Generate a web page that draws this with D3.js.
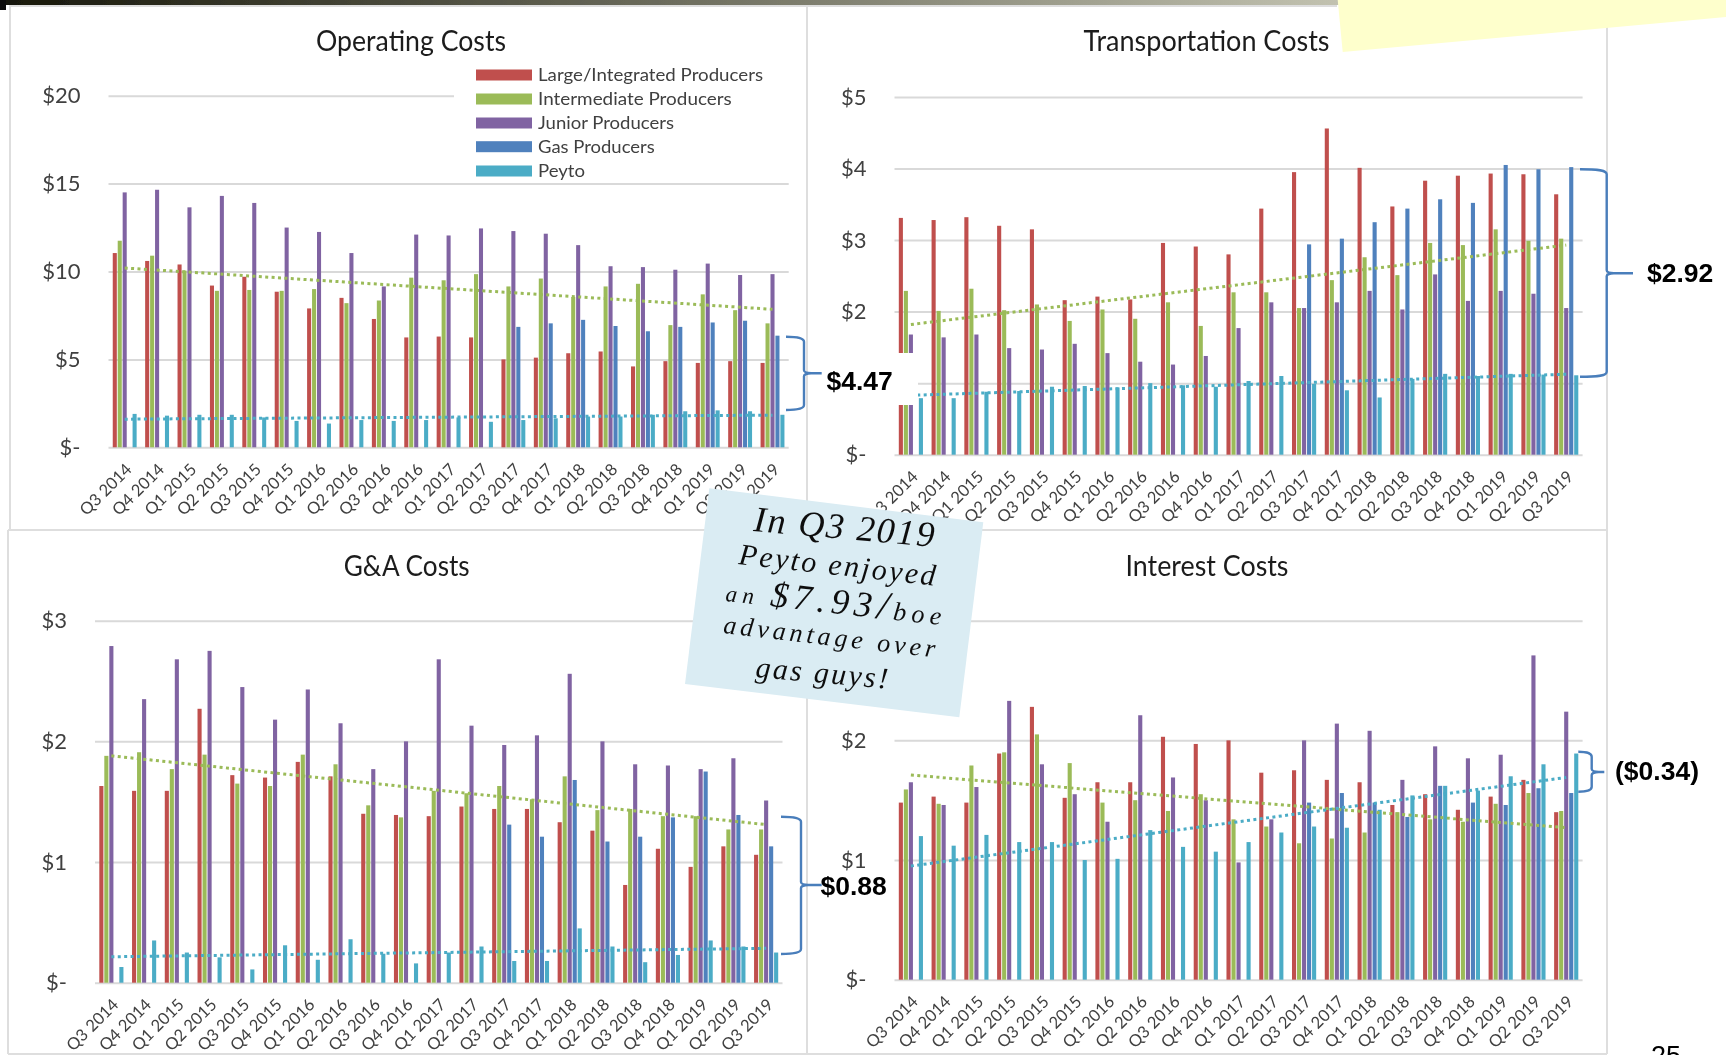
<!DOCTYPE html>
<html>
<head>
<meta charset="utf-8">
<title>Peyto cost comparison</title>
<script src="https://cdn.jsdelivr.net/npm/d3@7"></script>
<style>
html,body{margin:0;padding:0;background:#fff;overflow:hidden}
svg{display:block}
</style>
</head>
<body>
<svg id="chart" width="1726" height="1055"></svg>
<script>
const quarters = ["Q3 2014","Q4 2014","Q1 2015","Q2 2015","Q3 2015","Q4 2015","Q1 2016","Q2 2016","Q3 2016","Q4 2016","Q1 2017","Q2 2017","Q3 2017","Q4 2017","Q1 2018","Q2 2018","Q3 2018","Q4 2018","Q1 2019","Q2 2019","Q3 2019"];
const seriesNames = ["Large/Integrated Producers","Intermediate Producers","Junior Producers","Gas Producers","Peyto"];
const n = null;

const opLarge = [11.05,10.6,10.4,9.2,9.7,8.85,7.9,8.5,7.3,6.25,6.3,6.25,5.0,5.1,5.35,5.45,4.6,4.9,4.8,4.9,4.8];
const opInter = [11.75,10.9,10.05,8.9,8.95,8.9,9.0,8.2,8.35,9.65,9.5,9.85,9.15,9.6,8.55,9.15,9.3,6.95,8.7,7.8,7.05];
const opJunior = [14.5,14.65,13.65,14.3,13.9,12.5,12.25,11.05,9.15,12.1,12.05,12.45,12.3,12.15,11.5,10.3,10.25,10.1,10.45,9.8,9.85];
const opGas = [n,n,n,n,n,n,n,n,n,n,n,n,6.85,7.05,7.25,6.9,6.6,6.85,7.1,7.2,6.35];
const opPeyto = [1.9,1.8,1.85,1.85,1.7,1.5,1.35,1.55,1.5,1.55,1.7,1.45,1.55,1.65,1.75,1.75,1.85,2.05,2.1,2.05,1.85];
const opTicks = [0,5,10,15,20];
const opTrendInter = [10.2,7.85];
const opTrendPeyto = [1.6,1.83];

const trLarge = [3.31,3.28,3.32,3.2,3.15,2.16,2.21,2.17,2.96,2.91,2.8,3.44,3.95,4.56,4.01,3.47,3.83,3.9,3.93,3.92,3.64];
const trInter = [2.29,2.01,2.32,2.02,2.1,1.87,2.03,1.9,2.13,1.8,2.27,2.27,2.05,2.44,2.76,2.51,2.96,2.93,3.15,2.99,3.02];
const trJunior = [1.68,1.64,1.68,1.49,1.47,1.55,1.42,1.3,1.26,1.38,1.77,2.13,2.05,2.13,2.29,2.03,2.52,2.15,2.29,2.25,2.05];
const trGas = [n,n,n,n,n,n,n,n,n,n,n,n,2.94,3.02,3.25,3.44,3.57,3.52,4.05,3.99,4.02];
const trPeyto = [0.79,0.79,0.88,0.89,0.95,0.96,0.94,1.0,0.97,0.95,1.03,1.1,0.99,0.9,0.8,1.06,1.13,1.1,1.13,1.12,1.11];
const trTicks = [0,1,2,3,4,5];
const trHiddenTickLabels = [1];
const trTrendInter = [1.82,2.93];
const trTrendPeyto = [0.83,1.125];

const gaLarge = [1.63,1.59,1.59,2.27,1.72,1.7,1.83,1.71,1.4,1.39,1.38,1.46,1.44,1.44,1.33,1.26,0.81,1.11,0.96,1.13,1.06];
const gaInter = [1.88,1.91,1.77,1.89,1.65,1.63,1.89,1.81,1.47,1.37,1.59,1.57,1.63,1.52,1.71,1.43,1.44,1.38,1.38,1.27,1.27];
const gaJunior = [2.79,2.35,2.68,2.75,2.45,2.18,2.43,2.15,1.77,2.0,2.68,2.13,1.97,2.05,2.56,2.0,1.81,1.8,1.77,1.86,1.51];
const gaGas = [n,n,n,n,n,n,n,n,n,n,n,n,1.31,1.21,1.68,1.17,1.21,1.37,1.75,1.39,1.13];
const gaPeyto = [0.13,0.35,0.25,0.21,0.11,0.31,0.19,0.36,0.24,0.16,0.25,0.3,0.18,0.18,0.45,0.3,0.17,0.23,0.35,0.3,0.25];
const gaTicks = [0,1,2,3];
const gaTrendInter = [1.88,1.31];
const gaTrendPeyto = [0.215,0.285];

const inLarge = [1.48,1.53,1.48,1.89,2.28,1.52,1.65,1.65,2.03,1.97,2.0,1.73,1.75,1.67,1.65,1.46,1.55,1.42,1.53,1.67,1.4];
const inInter = [1.59,1.47,1.79,1.9,2.05,1.81,1.48,1.5,1.41,1.55,1.34,1.28,1.14,1.18,1.23,1.4,1.34,1.32,1.47,1.56,1.41];
const inJunior = [1.65,1.46,1.61,2.33,1.8,1.55,1.32,2.21,1.69,1.5,0.98,1.34,2.0,2.14,2.08,1.67,1.95,1.85,1.88,2.71,2.24];
const inGas = [n,n,n,n,n,n,n,n,n,n,n,n,1.48,1.56,1.48,1.36,1.62,1.48,1.46,1.6,1.56];
const inPeyto = [1.2,1.12,1.21,1.15,1.15,1.0,1.01,1.25,1.11,1.07,1.15,1.23,1.28,1.27,1.42,1.54,1.62,1.58,1.7,1.8,1.89];
const inTicks = [0,1,2,3];
const inHiddenTickLabels = [3];
const inTrendInter = [1.71,1.27];
const inTrendPeyto = [0.95,1.69];

const colors = ["#C0504D","#9BBB59","#8064A2","#4F81BD","#4BACC6"];
const labelFont = "Lato, 'Open Sans', sans-serif";
const boldFont = "'Liberation Sans', Arial, sans-serif";

const panels = [
  {title:"Operating Costs", tx:411, ty:50.5, tw:190, x0:108.5, x1:788.7, yTop:95.7, yBot:447.3, max:20,
   ticks:opTicks, hide:[], s:[opLarge,opInter,opJunior,opGas,opPeyto], tI:opTrendInter, tP:opTrendPeyto},
  {title:"Transportation Costs", tx:1206.5, ty:51, tw:246, x0:894.5, x1:1582.6, yTop:97, yBot:454.7, max:5,
   ticks:trTicks, hide:trHiddenTickLabels, s:[trLarge,trInter,trJunior,trGas,trPeyto], tI:trTrendInter, tP:trTrendPeyto},
  {title:"G&A Costs", tx:406.7, ty:576, tw:126, x0:95, x1:782.5, yTop:620.7, yBot:982.7, max:3,
   ticks:gaTicks, hide:[], s:[gaLarge,gaInter,gaJunior,gaGas,gaPeyto], tI:gaTrendInter, tP:gaTrendPeyto},
  {title:"Interest Costs", tx:1207, ty:576, tw:163, x0:894.5, x1:1582.6, yTop:620.7, yBot:979.7, max:3,
   ticks:inTicks, hide:inHiddenTickLabels, s:[inLarge,inInter,inJunior,inGas,inPeyto], tI:inTrendInter, tP:inTrendPeyto}
];

const svg = d3.select("#chart");
const defs = svg.append("defs");
const grad = defs.append("linearGradient").attr("id","topband").attr("x1",0).attr("x2",1).attr("y1",0).attr("y2",0);
grad.append("stop").attr("offset",0).attr("stop-color","#17170a");
grad.append("stop").attr("offset",1).attr("stop-color","#c2c2b0");
defs.append("filter").attr("id","soft").attr("x","-2%").attr("y","-2%").attr("width","104%").attr("height","104%")
  .append("feGaussianBlur").attr("stdDeviation",0.45);

const root = svg.append("g").attr("filter","url(#soft)");

// slide background elements
root.append("rect").attr("x",0).attr("y",0).attr("width",1340).attr("height",5).attr("fill","url(#topband)");
root.append("rect").attr("x",0).attr("y",0).attr("width",6).attr("height",10).attr("fill","#111");

// panel frames
const frame = [[10,5,10,530],[807,5,807,1054],[1607,5,1607,1054],[8,530,8,1054],[8,530,1607,530],[8,1054,1607,1054],[10,6,1337,6]];
root.append("g").selectAll("line").data(frame).join("line")
  .attr("x1",d=>d[0]).attr("y1",d=>d[1]).attr("x2",d=>d[2]).attr("y2",d=>d[3])
  .attr("stroke","#dedede").attr("stroke-width",2);

panels.forEach(p => {
  const g = root.append("g");
  const x = d3.scaleBand().domain(quarters).range([p.x0,p.x1]).paddingInner(0.235).paddingOuter(0.1175);
  const sub = d3.scaleBand().domain(d3.range(5)).range([0,x.bandwidth()]).paddingInner(0.18).paddingOuter(0.09);
  const y = d3.scaleLinear().domain([0,p.max]).range([p.yBot,p.yTop]);

  const yAxis = d3.axisLeft(y).tickValues(p.ticks)
    .tickFormat(d => d === 0 ? "$-" : "$" + d)
    .tickSize(-(p.x1-p.x0)).tickPadding(28);
  const ya = g.append("g").attr("transform",`translate(${p.x0},0)`).call(yAxis);
  ya.select(".domain").remove();
  ya.selectAll("line").attr("stroke","#d9d9d9").attr("stroke-width",2);
  ya.selectAll("text").attr("fill","#404040").attr("font-family",labelFont).attr("font-size",22);
  // labels the reference hides beneath the note / the callout box
  ya.selectAll("text").filter(d => p.hide.includes(d)).remove();

  const xAxis = d3.axisBottom(x).tickSize(0);
  const xa = g.append("g").attr("transform",`translate(0,${p.yBot})`).call(xAxis);
  xa.select(".domain").remove();
  xa.selectAll("text").attr("fill","#404040").attr("font-family",labelFont).attr("font-size",16.5)
    .attr("x",0).attr("y",0).attr("dy","0.35em").attr("text-anchor","end")
    .attr("transform","translate(4,19) rotate(-45)");

  if (p.title === "Operating Costs") {
    g.append("rect").attr("x",454).attr("y",60).attr("width",340).attr("height",118).attr("fill","#fff");
  }

  seriesNames.forEach((name,si) => {
    g.append("g").selectAll("rect")
      .data(p.s[si].map((v,i)=>({v,q:quarters[i]})).filter(d=>d.v!==null))
      .join("rect")
      .attr("x",d=>x(d.q)+sub(si))
      .attr("y",d=>y(d.v))
      .attr("width",sub.bandwidth())
      .attr("height",d=>p.yBot-y(d.v))
      .attr("fill",colors[si]);
  });

  const line = d3.line().x(d=>x(d.q)+x.bandwidth()/2).y(d=>y(d.v));
  [[p.tI,colors[1]],[p.tP,colors[4]]].forEach(([t,c]) => {
    g.append("path")
      .attr("d",line([{q:quarters[0],v:t[0]},{q:quarters[20],v:t[1]}]))
      .attr("fill","none").attr("stroke",c).attr("stroke-width",3)
      .attr("stroke-dasharray","3,3.4");
  });

  g.append("text").text(p.title).attr("x",p.tx).attr("y",p.ty)
    .attr("text-anchor","middle").attr("font-family",labelFont).attr("font-size",28).attr("fill","#1c1c1c")
    .attr("textLength",p.tw).attr("lengthAdjust","spacingAndGlyphs");
});

// legend (Operating Costs panel)
const legendRowY = [75,99,123,146.7,171];
const legendTextW = [225,193.7,136,116.7,47];
const leg = root.append("g");
seriesNames.forEach((name,i) => {
  leg.append("rect").attr("x",476).attr("y",legendRowY[i]-5.5).attr("width",56).attr("height",11).attr("fill",colors[i]);
  leg.append("text").text(name).attr("x",538).attr("y",legendRowY[i]+6)
    .attr("font-family",labelFont).attr("font-size",18).attr("fill","#404040")
    .attr("textLength",legendTextW[i]).attr("lengthAdjust","spacingAndGlyphs");
});

// white box behind the $4.47 callout
root.append("rect").attr("x",808).attr("y",353).attr("width",110).attr("height",52).attr("fill","#fff");

// braces + callouts
function brace(x0,spine,tip,yT,yM,yB){
  return `M${x0},${yT} C${spine-8},${yT} ${spine},${yT+1} ${spine},${yT+5} L${spine},${yM-3} Q${spine},${yM-0.5} ${spine+7},${yM} L${tip},${yM} `+
         `L${spine+7},${yM} Q${spine},${yM+0.5} ${spine},${yM+3} L${spine},${yB-5} C${spine},${yB-1} ${spine-8},${yB} ${x0},${yB}`;
}
const callouts = [
  {b:[786,804,821.7,336.7,373.3,410], t:"$4.47", x:826.5, y:390},
  {b:[1580,1606.7,1633,169.3,273.3,376.7], t:"$2.92", x:1647, y:282},
  {b:[781,801,821.7,816.7,885,954], t:"$0.88", x:820.5, y:894.5},
  {b:[1578.3,1591.7,1604.3,751.7,772,791.7], t:"($0.34)", x:1615, y:780}
];
callouts.forEach(c => {
  root.append("path").attr("d",brace(...c.b)).attr("fill","none").attr("stroke","#4a7ebb").attr("stroke-width",2.4);
  root.append("text").text(c.t).attr("x",c.x).attr("y",c.y).attr("font-family",boldFont)
    .attr("font-weight",700).attr("font-size",26.5).attr("fill","#000");
});

// yellow sticky at top right
root.append("polygon").attr("points","1337.7,0 1342.7,52 1726,17 1726,0").attr("fill","#feffcc");

// blue hand-written note
root.append("polygon").attr("points","709.3,488.3 983.3,522.3 959.3,717.3 685,684").attr("fill","#daecf3");
const noteLines = [
  {parts:[["In Q3 2019",36]], x:753, y:531, w:183, r:5},
  {parts:[["Peyto enjoyed",30]], x:738, y:564, w:200, r:6.3},
  {parts:[["an ",23],["$7.93",36],["/",40],["boe",26]], x:725, y:601, w:222, r:6.4},
  {parts:[["advantage over",26]], x:722.7, y:633, w:217, r:6.6},
  {parts:[["gas guys!",30]], x:755, y:677, w:135, r:5}
];
noteLines.forEach(l => {
  const t = root.append("text").attr("transform",`translate(${l.x},${l.y}) rotate(${l.r})`)
    .attr("font-family","'Liberation Serif', serif").attr("font-style","italic").attr("fill","#111");
  l.parts.forEach(([s,fs]) => t.append("tspan").text(s).attr("font-size",fs));
  const len = t.node().getComputedTextLength();
  const chars = l.parts.reduce((a,[s])=>a+s.length,0);
  t.attr("letter-spacing",((l.w-len)/chars).toFixed(2));
});

// clipped page number
root.append("text").text("25").attr("x",1651).attr("y",1065).attr("font-family",boldFont)
  .attr("font-size",27).attr("fill","#000");
</script>
</body>
</html>
